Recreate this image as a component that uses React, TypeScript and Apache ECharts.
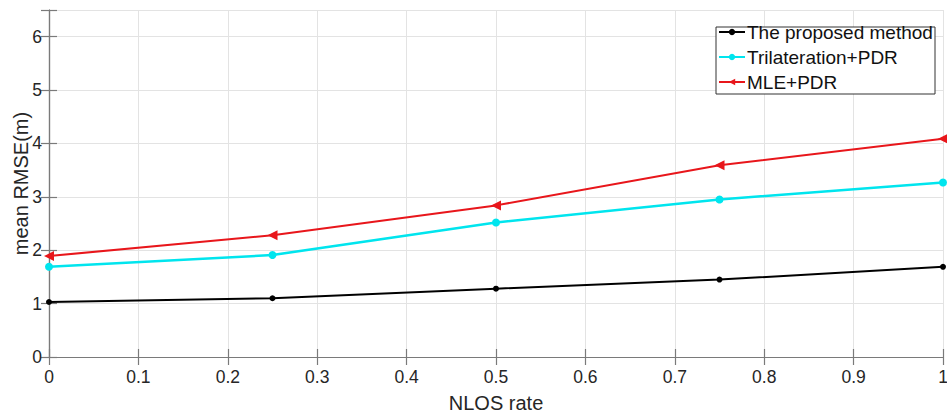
import React, { useEffect, useRef } from "react";
import * as echarts from "echarts";

// NLOS rate sampled at five levels
const nlosRate: number[] = [0, 0.25, 0.5, 0.75, 1];

// mean RMSE (m) of each positioning method
const proposed: number[] = [1.03, 1.1, 1.28, 1.45, 1.69];
const trilaterationPdr: number[] = [1.69, 1.91, 2.52, 2.95, 3.27];
const mlePdr: number[] = [1.89, 2.28, 2.84, 3.59, 4.09];

const seriesNames: string[] = ["The proposed method", "Trilateration+PDR", "MLE+PDR"];

const FONT = "Liberation Sans, Arial, sans-serif";
const AXIS_GRAY = "#7a7a7a";
const TEXT_GRAY = "#262626";

export default function App() {
  const ref = useRef<HTMLDivElement>(null);

  useEffect(() => {
    if (!ref.current) return;
    const chart = echarts.init(ref.current, undefined, { renderer: "svg" });

    const pairs = (ys: number[]) => nlosRate.map((x, i) => [x, ys[i]]);

    const baseAxisLine = { show: true, lineStyle: { color: AXIS_GRAY, width: 1.2 } };
    const tick = { show: true, inside: true, length: 8, lineStyle: { color: AXIS_GRAY, width: 1.2 } };

    chart.setOption({
      animation: false,
      backgroundColor: "#ffffff",
      textStyle: { fontFamily: FONT },
      grid: {
        left: 49,
        right: 4,
        top: 10,
        bottom: 59,
        containLabel: false,
        outerBoundsMode: "none",
      },
      // legend frame
      graphic: [
        {
          type: "rect",
          z: 3,
          shape: { x: 716, y: 27, width: 219, height: 67 },
          style: { fill: "#ffffff", stroke: "#333333", lineWidth: 1 },
        },
      ],
      legend: {
        orient: "vertical",
        left: 716,
        top: 22,
        z: 5,
        padding: [0, 0, 0, 2],
        itemGap: 5,
        itemWidth: 26,
        itemHeight: 8,
        textStyle: {
          fontFamily: FONT,
          fontSize: 19,
          lineHeight: 20,
          color: "#111111",
          padding: [0, 0, 0, -3],
        },
        data: seriesNames,
      },
      xAxis: [
        {
          type: "value",
          min: 0,
          max: 1,
          interval: 0.1,
          name: "NLOS rate",
          nameLocation: "middle",
          nameGap: 36,
          nameTextStyle: { fontFamily: FONT, fontSize: 20, color: TEXT_GRAY },
          axisLine: baseAxisLine,
          axisTick: tick,
          axisLabel: { fontFamily: FONT, fontSize: 17.5, color: TEXT_GRAY, margin: 11 },
          splitLine: { show: true, lineStyle: { color: "#e3e3e3", width: 1 } },
        },
        {
          type: "value",
          position: "top",
          min: 0,
          max: 1,
          interval: 0.1,
          axisLine: baseAxisLine,
          axisTick: tick,
          axisLabel: { show: false },
          splitLine: { show: false },
        },
      ],
      yAxis: [
        {
          type: "value",
          min: 0,
          max: 6.5,
          interval: 1,
          name: "mean RMSE(m)",
          nameLocation: "middle",
          nameGap: 18,
          nameMoveOverlap: false,
          nameRotate: 90,
          nameTextStyle: { fontFamily: FONT, fontSize: 20, color: TEXT_GRAY },
          axisLine: baseAxisLine,
          axisTick: tick,
          axisLabel: {
            fontFamily: FONT,
            fontSize: 17.5,
            color: TEXT_GRAY,
            margin: 7,
            formatter: (v: number) => (v > 6 ? "" : String(v)),
          },
          splitLine: { show: true, lineStyle: { color: "#e3e3e3", width: 1 } },
        },
        {
          type: "value",
          position: "right",
          min: 0,
          max: 6.5,
          interval: 1,
          axisLine: baseAxisLine,
          axisTick: tick,
          axisLabel: { show: false },
          splitLine: { show: false },
        },
      ],
      series: [
        {
          name: seriesNames[0],
          type: "line",
          data: pairs(proposed),
          symbol: "circle",
          symbolSize: 6,
          lineStyle: { color: "#000000", width: 2 },
          itemStyle: { color: "#000000" },
          z: 3,
        },
        {
          name: seriesNames[1],
          type: "line",
          data: pairs(trilaterationPdr),
          symbol: "circle",
          symbolSize: 8,
          lineStyle: { color: "#00e5ee", width: 2.5 },
          itemStyle: { color: "#00e5ee" },
          z: 4,
        },
        {
          name: seriesNames[2],
          type: "line",
          data: pairs(mlePdr),
          symbol: "triangle",
          symbolSize: 10,
          symbolRotate: 90,
          lineStyle: { color: "#e8161b", width: 2 },
          itemStyle: { color: "#e8161b" },
          z: 5,
        },
      ],
    });

    return () => chart.dispose();
  }, []);

  return (
    <div
      ref={ref}
      style={{ position: "absolute", left: 0, top: 0, width: 947, height: 416, overflow: "hidden" }}
    />
  );
}
